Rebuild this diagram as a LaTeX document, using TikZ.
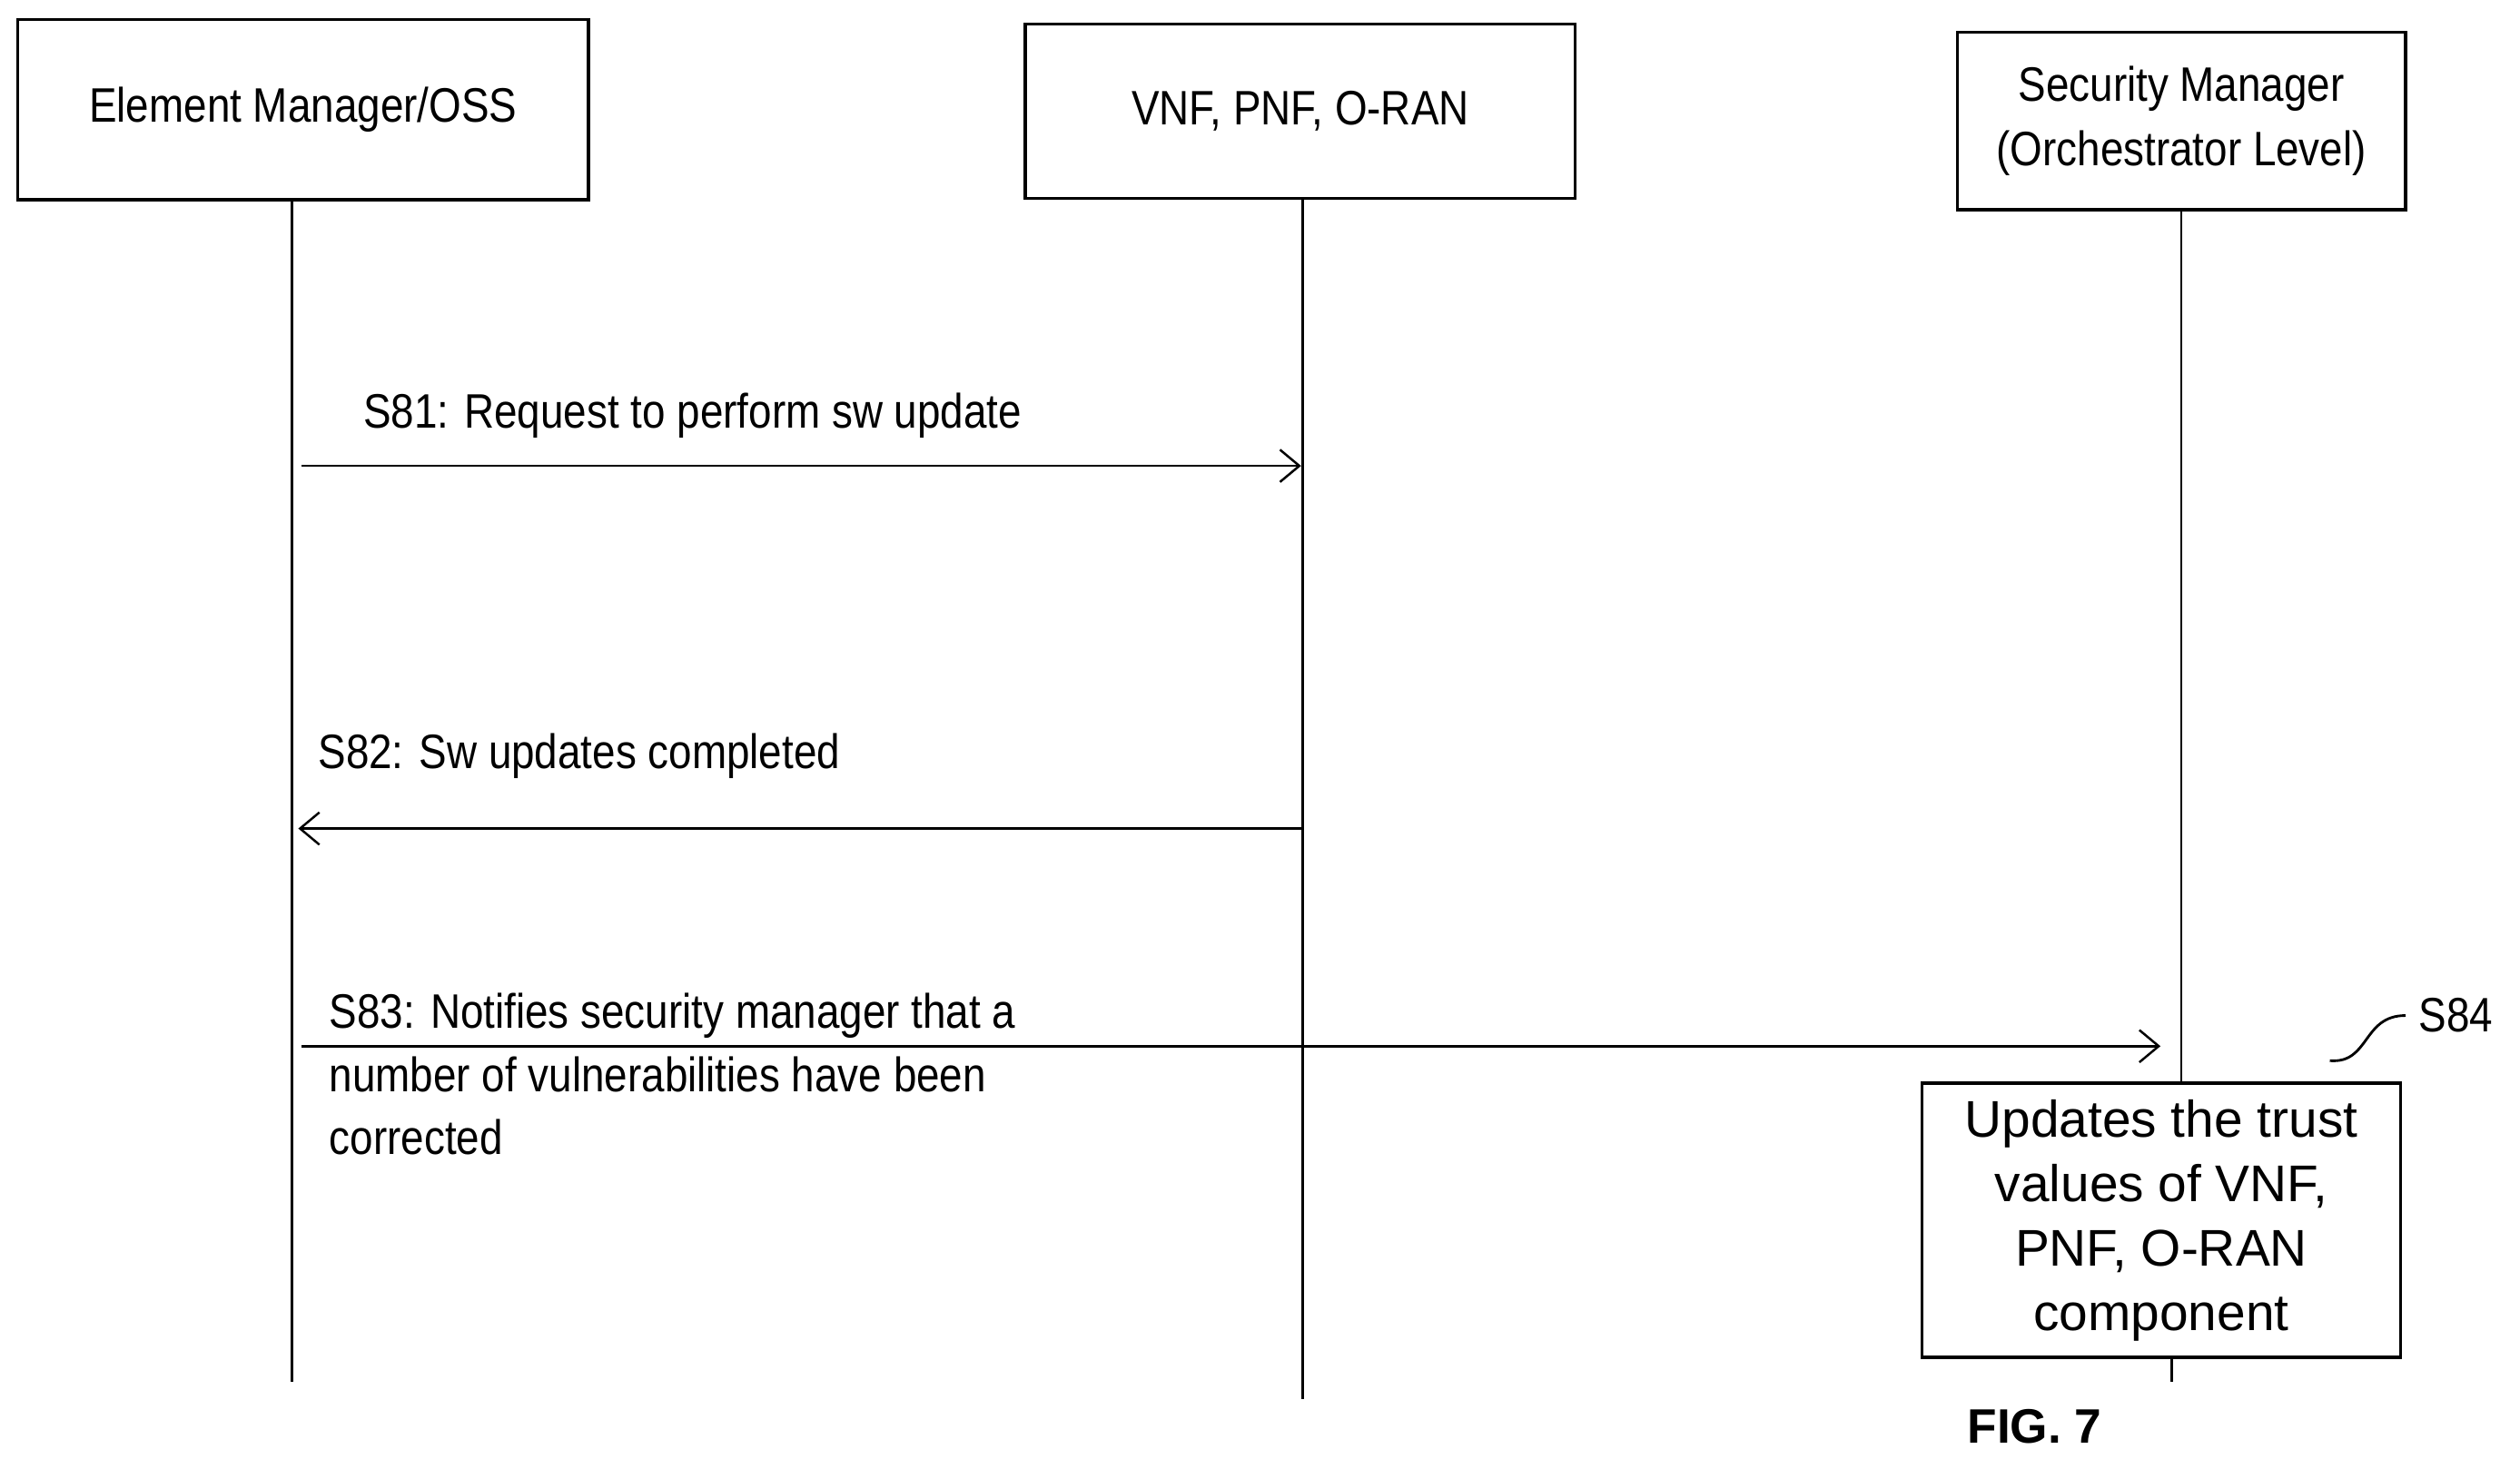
\documentclass[tikz,border=0pt]{standalone}
\usetikzlibrary{arrows.meta}
\usepackage{fontspec}
\setmainfont[FakeStretch=0.86]{Liberation Sans}
\newfontfamily\wide{Liberation Sans}
\begin{document}
\begin{tikzpicture}[x=0.5pt,y=-0.5pt,
  box/.style={draw,line width=1pt,inner sep=0pt,align=center,font=\fontsize{15}{20}\selectfont},
  lbl/.style={anchor=west,inner sep=0pt,align=left,font=\fontsize{15}{19.5}\selectfont},
  life/.style={line width=0.7pt},
  msg/.style={line width=0.7pt,->,>={Straight Barb[length=6pt,width=10pt]}}]
\useasboundingbox (0,0) rectangle (1563,905);
\node[box,minimum width=177pt,minimum height=56pt] (em) at (188,68) {Element Manager/OSS};
\node[box,minimum width=170.5pt,minimum height=54pt] (vnf) at (806.5,69) {VNF, PNF, O-RAN};
\node[box,minimum width=139pt,minimum height=55pt] (sm) at (1353,75) {Security Manager\\(Orchestrator Level)};
\coordinate (a1) at (181,124); \coordinate (a2) at (181,857);
\coordinate (b1) at (808,123); \coordinate (b2) at (808,868);
\coordinate (c1) at (1353,130);
\draw[life] (a1)--(a2);
\draw[life] (b1)--(b2);
\node[box,minimum width=148.5pt,minimum height=85pt,font=\wide\fontsize{16}{20}\selectfont] (upd) at (1340.5,757) {Updates the trust\\values of VNF,\\PNF, O-RAN\\component};
\coordinate (c2) at (1353,672);
\draw[life] (c1)--(c2);
\coordinate (c3) at (1347,842); \coordinate (c4) at (1347,857);
\draw[life] (c3)--(c4);
\coordinate (s1a) at (187,289); \coordinate (s1b) at (807,289);
\draw[msg] (s1a)--(s1b);
\node[lbl] (l1) at (225,258) {S81: Request to perform sw update};
\coordinate (s2a) at (808,514); \coordinate (s2b) at (185,514);
\draw[msg] (s2a)--(s2b);
\node[lbl] (l2) at (197,469) {S82: Sw updates completed};
\coordinate (s3a) at (187,649); \coordinate (s3b) at (1340,649);
\draw[msg] (s3a)--(s3b);
\node[lbl,anchor=north west] (l3) at (204,616) {S83: Notifies security manager that a\\number of vulnerabilities have been\\corrected};
\node[lbl] (s84) at (1500,630) {S84};
\coordinate (q1) at (1445,658); \coordinate (q2) at (1492,630);
\draw[line width=0.8pt] (q1) .. controls (1470,660) and (1465,630) .. (q2);
\node[inner sep=0pt,font=\wide\bfseries\fontsize{15}{18}\selectfont] (fig) at (1262,885) {FIG. 7};
\end{tikzpicture}
\end{document}
